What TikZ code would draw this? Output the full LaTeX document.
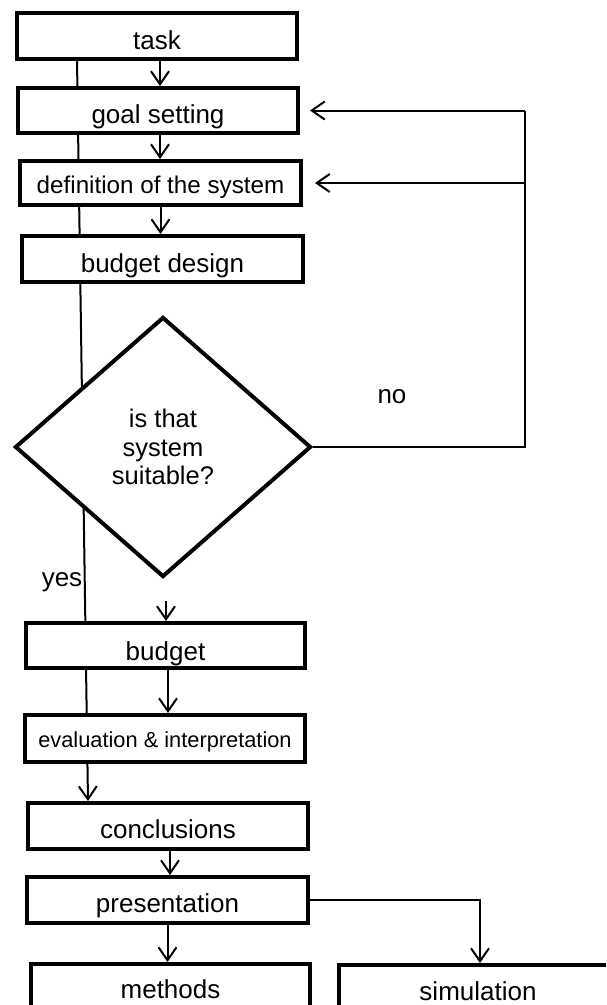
\documentclass[tikz,border=0pt]{standalone}
\usepackage{fontspec}
\setmainfont{Liberation Sans}
\usetikzlibrary{arrows.meta,shapes.geometric}
\begin{document}
\begin{tikzpicture}[x=1pt,y=-1pt,
  mainfont/.style={font=\fontsize{26}{28.5}\selectfont},
  box/.style={draw,line width=4pt,fill=white,rectangle,inner sep=0pt,
    minimum width=280pt,minimum height=46pt,text height=25pt,text depth=0pt,mainfont},
  conn/.style={line width=2pt},
  arr/.style={line width=2pt,-{Straight Barb[length=13pt,width=18pt]}},
  lbl/.style={anchor=base,inner sep=0pt,mainfont}]
\clip (0,0) rectangle (606,1005);
\fill[white] (0,0) rectangle (606,1005);
% long slanted line behind the boxes
\coordinate (ltop) at (77,59);
\coordinate (lbot) at (88,801);
\draw[arr] (ltop) -- (lbot);
% boxes
\node[box,minimum height=46pt,text height=26pt] (task) at (157,36) {task};
\node[box,minimum height=45pt] (goal) at (158,110.5) {goal setting};
\node[box,minimum width=281pt,minimum height=44pt,font=\fontsize{24.2}{26}\selectfont,text height=20pt] (def) at (160.5,183) {definition of the system};
\node[box,minimum width=281pt,minimum height=46pt,text height=26pt] (bdes) at (162.5,259) {budget design};
\node[diamond,draw,line width=4pt,fill=white,inner sep=0pt,minimum width=296pt,minimum height=260pt,align=center,font=\fontsize{25.5}{28.5}\selectfont] (dia) at (163,447) {is that\\system\\suitable?};
\node[box,minimum width=279pt,minimum height=45pt,text height=29pt] (bud) at (165.5,645.5) {budget};
\node[box,minimum width=280pt,minimum height=47pt,font=\fontsize{21.8}{24}\selectfont,text height=17pt] (eval) at (165,738.5) {evaluation \& interpretation};
\node[box,minimum width=280pt,minimum height=46pt,text height=24pt] (concl) at (168,826) {conclusions};
\node[box,minimum width=281pt,minimum height=46pt,text height=24pt] (pres) at (167.5,900) {presentation};
\node[box,minimum width=279pt,minimum height=48pt,text height=20pt] (meth) at (170.5,988) {methods};
\node[box,minimum width=278pt,minimum height=48pt,text height=22pt] (sim) at (478,989) {simulation};
% labels
\node[lbl] (no) at (392,403) {no};
\node[lbl] (yes) at (62,586) {yes};
% straight arrows
\draw[arr] ([xshift=2pt]goal.north |- task.south) -- ([xshift=2pt]goal.north);
\draw[arr] ([xshift=2pt]goal.south) -- ([xshift=2pt]goal.south |- def.north);
\draw[arr] (def.south) -- (def.south |- bdes.north);
\coordinate (yesarr) at (166,601);
\draw[arr] (yesarr) -- (yesarr |- bud.north);
\draw[arr] ([xshift=2.5pt]bud.south) -- ([xshift=2.5pt]bud.south |- eval.north);
\draw[arr] ([xshift=2pt]concl.south) -- ([xshift=2pt]concl.south |- pres.north);
\draw[arr] (pres.south) -- (pres.south |- meth.north);
\draw[arr] (pres.east) -| ([xshift=2pt]sim.north);
% feedback loop
\coordinate (fb) at (525,451);
\draw[conn] (dia.east) -- (dia.east -| fb) -- (fb |- goal.east);
\draw[arr] (fb |- goal.east) -- ([xshift=10pt]goal.east);
\draw[arr] (fb |- def.east) -- ([xshift=12pt]def.east);
\end{tikzpicture}
\end{document}
